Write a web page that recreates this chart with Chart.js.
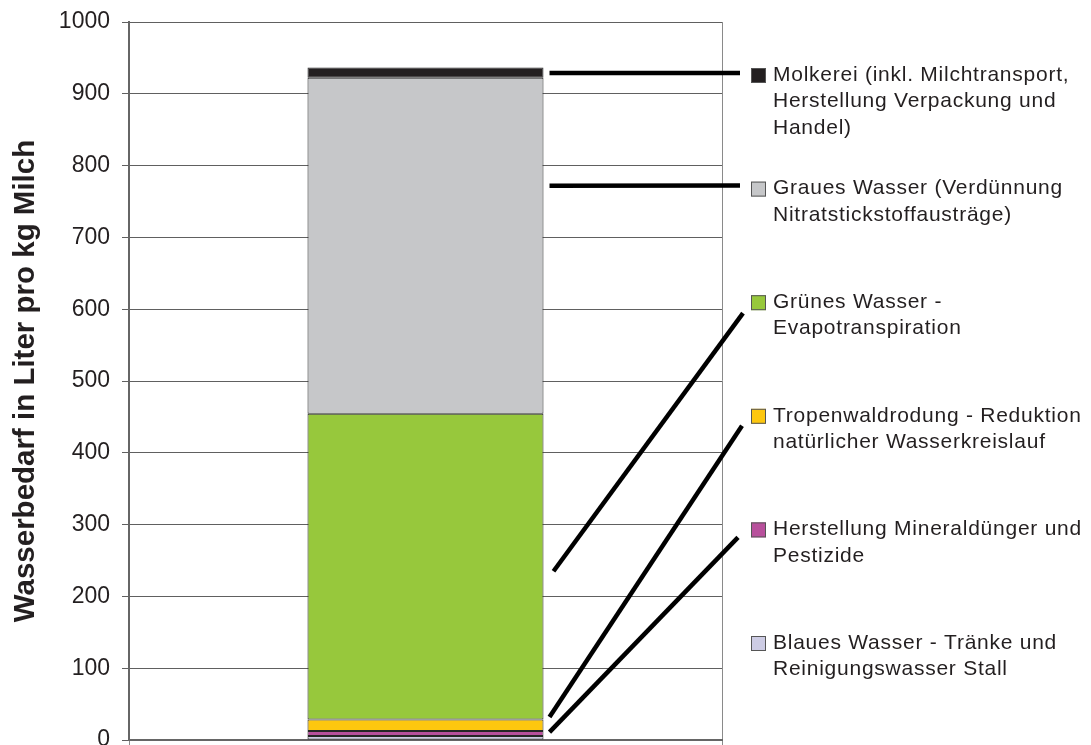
<!DOCTYPE html>
<html>
<head>
<meta charset="utf-8">
<script src="https://cdn.jsdelivr.net/npm/chart.js@4.4.1/dist/chart.umd.min.js"></script>
<style>
  html, body { margin: 0; padding: 0; background: #fff; }
  canvas { display: block; }
</style>
</head>
<body>
<canvas id="chart" width="1091" height="745"></canvas>
<script>
// Kategorien (eine Säule) und Anteile von unten nach oben
const categories = [""];
const seriesNames = [
  "Blaues Wasser - Tränke und Reinigungswasser Stall",
  "Herstellung Mineraldünger und Pestizide",
  "Tropenwaldrodung - Reduktion natürlicher Wasserkreislauf",
  "Grünes Wasser - Evapotranspiration",
  "Graues Wasser (Verdünnung Nitratstickstoffausträge)",
  "Molkerei (inkl. Milchtransport, Herstellung Verpackung und Handel)"
];
const blauesWasser = [5.5];
const mineralduenger = [7];
const tropenwald = [16];
const gruenesWasser = [426];
const graueswasser = [468];
const molkerei = [14];
const seriesValues = [blauesWasser, mineralduenger, tropenwald, gruenesWasser, graueswasser, molkerei];
const yTicks = [0, 100, 200, 300, 400, 500, 600, 700, 800, 900, 1000];

// Legendentexte (Zeilen), Reihenfolge oben -> unten
const legendLines = [
  ["Molkerei (inkl. Milchtransport,", "Herstellung Verpackung und", "Handel)"],
  ["Graues Wasser (Verdünnung", "Nitratstickstoffausträge)"],
  ["Grünes Wasser -", "Evapotranspiration"],
  ["Tropenwaldrodung - Reduktion", "natürlicher Wasserkreislauf"],
  ["Herstellung Mineraldünger und", "Pestizide"],
  ["Blaues Wasser - Tränke und", "Reinigungswasser Stall"]
];
// Anker der Verbindungslinien am Balken (Wert auf der y-Achse)
const leaderAnchors = [929, 772, 235, 32, 11];

const colors = ["#cdcce4", "#b8509c", "#fdc70f", "#97c83c", "#c6c7c9", "#231f20"];

const FONT = "'Liberation Sans', Arial, sans-serif";

// Legende + Verbindungslinien selbst zeichnen
const sideLegend = {
  id: "sideLegend",
  afterDraw(chart) {
    const ctx = chart.ctx;
    const area = chart.chartArea;
    const y = chart.scales.y;
    const bar = chart.getDatasetMeta(0).data[0];
    const barRight = bar.x + bar.width / 2;
    const boxX = area.right + 29;
    const textX = area.right + 51;
    const firstY = 75, step = 113.6, lh = 26.5;

    ctx.save();
    // Verbindungslinien
    const endDy = [-2, -3, 11, 10, 8];
    const startDx = [6, 6, 10, 6, 6];
    const endDx = [-11, -11, -8, -9, -13];
    ctx.strokeStyle = "#000";
    ctx.lineWidth = 4.5;
    leaderAnchors.forEach((v, i) => {
      ctx.beginPath();
      ctx.moveTo(barRight + startDx[i], y.getPixelForValue(v));
      ctx.lineTo(boxX + endDx[i], firstY + i * step + endDy[i]);
      ctx.stroke();
    });

    // Legende
    ctx.font = "21px " + FONT;
    ctx.letterSpacing = "0.75px";
    ctx.textBaseline = "middle";
    ctx.textAlign = "left";
    legendLines.forEach((lines, i) => {
      const cy = firstY + i * step;
      const col = colors[colors.length - 1 - i];
      ctx.fillStyle = col;
      ctx.fillRect(boxX, cy - 7, 15, 15);
      ctx.strokeStyle = "#555";
      ctx.lineWidth = 1;
      ctx.strokeRect(boxX + 0.5, cy - 6.5, 14, 14);
      ctx.fillStyle = "#231f20";
      lines.forEach((t, j) => ctx.fillText(t, textX, cy + j * lh));
    });
    ctx.restore();
  }
};

new Chart(document.getElementById("chart"), {
  type: "bar",
  data: {
    labels: categories,
    datasets: seriesValues.map((vals, i) => ({
      label: seriesNames[i],
      data: vals,
      backgroundColor: colors[i],
      borderColor: "#262626",
      borderWidth: 1,
      borderSkipped: false,
      categoryPercentage: 1,
      barPercentage: 0.398
    }))
  },
  options: {
    responsive: false,
    animation: false,
    devicePixelRatio: 1,
    layout: { padding: { top: 22, right: 369, bottom: 5, left: 0 } },
    plugins: { legend: { display: false }, tooltip: { enabled: false } },
    scales: {
      x: {
        stacked: true,
        offset: true,
        ticks: { display: false },
        grid: { display: true, offset: true, color: "#8a8a8a", lineWidth: 1, tickLength: 5, drawOnChartArea: true },
        border: { display: true, color: "#666", width: 2 },
        afterFit(scale) { scale.height = 0; scale.paddingLeft = 0; scale.paddingRight = 0; }
      },
      y: {
        stacked: true,
        min: 0,
        max: 1000,
        afterBuildTicks(scale) { scale.ticks = yTicks.map(v => ({ value: v })); },
        ticks: { font: { family: FONT, size: 23 }, color: "#231f20", padding: 12, callback: v => String(v) },
        grid: { color: "#606060", lineWidth: 1, tickLength: 7 },
        border: { display: true, color: "#666", width: 2 },
        title: {
          display: true,
          text: "Wasserbedarf in Liter pro kg Milch",
          font: { family: FONT, size: 29.5, weight: "bold" },
          color: "#231f20",
          padding: { top: 8, bottom: 0 }
        },
        afterFit(scale) { scale.width = 129; scale.paddingTop = 0; scale.paddingBottom = 0; }
      }
    }
  },
  plugins: [sideLegend]
});
</script>
</body>
</html>
